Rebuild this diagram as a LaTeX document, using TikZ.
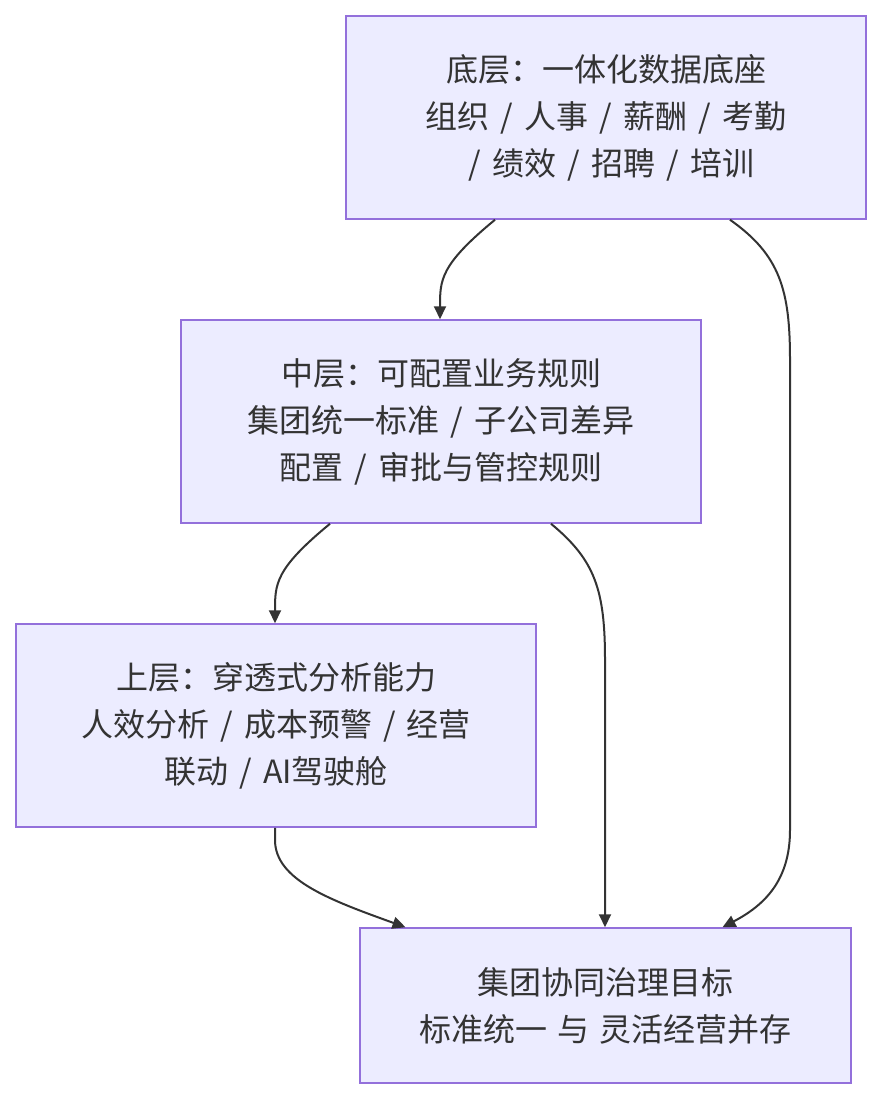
\documentclass[tikz,border=0pt]{standalone}
\usepackage{fontspec}
\setmainfont{Noto Sans CJK SC}
\usetikzlibrary{arrows.meta,calc}
\definecolor{boxfill}{HTML}{ECECFF}
\definecolor{boxline}{HTML}{9370DB}
\definecolor{ink}{HTML}{333333}
\newcommand\sepa{\hspace{0.35em}/\hspace{0.35em}}
\tikzset{
  box/.style={draw=boxline, fill=boxfill, line width=1.5pt, text=ink, align=center,
    inner sep=0pt, font=\fontsize{32}{47}\selectfont},
  conn/.style={draw=ink, line width=2pt, -{Triangle[length=13pt,width=12pt]}},
}
\begin{document}
\begin{tikzpicture}[x=1pt,y=-1pt]
\useasboundingbox (0,0) rectangle (882,1100);
\node[box, minimum width=520pt, minimum height=203pt] (A) at (606,117.5)
  {底层：一体化数据底座\\组织\sepa 人事\sepa 薪酬\sepa 考勤\\\hspace{0.35em}/\hspace{0.35em}绩效\sepa 招聘\sepa 培训};
\node[box, minimum width=520pt, minimum height=203pt] (B) at (441,421.5)
  {中层：可配置业务规则\\集团统一标准\sepa 子公司差异\\配置\sepa 审批与管控规则};
\node[box, minimum width=520pt, minimum height=203pt] (C) at (276,725.5)
  {上层：穿透式分析能力\\人效分析\sepa 成本预警\sepa 经营\\联动\sepa AI驾驶舱};
\node[box, minimum width=491pt, minimum height=155pt] (D) at (605.5,1005.5)
  {集团协同治理目标\\标准统一\hspace{0.3em}与\hspace{0.3em}灵活经营并存};
% A -> B
\draw[conn] ([xshift=-111pt]A.south) .. controls (440,265) and (440,280) .. ([xshift=-1pt]B.north);
% A -> D
\draw[conn] ([xshift=124pt]A.south) .. controls (780,255) and (790,290) .. (790,360)
  -- (790,830) .. controls (790,880) and (765,905) .. ([xshift=117pt]D.north);
% B -> C
\draw[conn] ([xshift=-111pt]B.south) .. controls (275,569) and (275,584) .. ([xshift=-1pt]C.north);
% B -> D
\draw[conn] ([xshift=110pt]B.south) .. controls (595,560) and (605,590) .. (605,660) -- ([xshift=-0.5pt]D.north);
% C -> D
\draw[conn] ([xshift=-1pt]C.south) -- (275,840) .. controls (275,880) and (330,900) .. ([xshift=-200pt]D.north);
\end{tikzpicture}
\end{document}
